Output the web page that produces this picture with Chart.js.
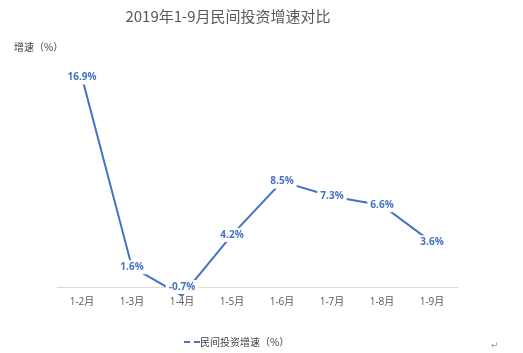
<!DOCTYPE html>
<html><head><meta charset="utf-8">
<script src="https://cdn.jsdelivr.net/npm/chart.js@4/dist/chart.umd.min.js"></script>
<style>html,body{margin:0;padding:0;background:#fff}#wrap{width:523px;height:353px;position:relative}</style>
</head><body><div id="wrap"><canvas id="c" width="523" height="353"></canvas></div>
<script>
const categories = ["1-2月","1-3月","1-4月","1-5月","1-6月","1-7月","1-8月","1-9月"];
const growth = [16.9, 1.6, -0.7, 4.2, 8.5, 7.3, 6.6, 3.6];
const seriesName = "民间投资增速（%）";
const titleText = "2019年1-9月民间投资增速对比";
const yTitle = "增速（%）";
const BLUE = "#4472C4";
const CJK = "'Noto Sans CJK SC', 'Noto Sans', sans-serif";

const decor = {
  id: 'decor',
  afterDatasetsDraw(chart) {
    const ctx = chart.ctx;
    const meta = chart.getDatasetMeta(0);
    ctx.save();
    ctx.font = "bold 10px 'Open Sans', 'Liberation Sans', sans-serif";
    ctx.textAlign = 'center';
    ctx.textBaseline = 'middle';
    meta.data.forEach((pt, i) => {
      const v = chart.data.datasets[0].data[i];
      const txt = v.toFixed(1) + '%';
      let y = pt.y;
      if (y > chart.chartArea.bottom) y = chart.chartArea.bottom;
      const w = ctx.measureText(txt).width;
      ctx.fillStyle = '#fff';
      ctx.fillRect(pt.x - w/2 - 3, y - 7, w + 6, 14);
      ctx.fillStyle = BLUE;
      ctx.fillText(txt, pt.x, y);
    });
    ctx.restore();
  },
  afterDraw(chart) {
    const ctx = chart.ctx;
    ctx.save();
    ctx.textBaseline = 'middle';
    ctx.fillStyle = '#595959';
    ctx.font = "15px " + CJK;
    ctx.textAlign = 'center';
    ctx.fillText(titleText, 228, 16);
    ctx.font = "10px " + CJK;
    ctx.textAlign = 'left';
    ctx.fillStyle = '#404040';
    ctx.fillText(yTitle, 14, 47);
    // legend
    ctx.strokeStyle = BLUE;
    ctx.lineWidth = 2;
    ctx.beginPath();
    ctx.moveTo(184, 342); ctx.lineTo(190, 342);
    ctx.moveTo(194, 342); ctx.lineTo(200, 342);
    ctx.stroke();
    ctx.fillStyle = '#404040';
    ctx.font = "10px " + CJK;
    ctx.fillText(seriesName, 200, 342);
    ctx.fillStyle = '#999';
    ctx.font = "9px 'DejaVu Sans', sans-serif";
    ctx.fillText("↵", 491, 346);
    ctx.restore();
  }
};

new Chart(document.getElementById('c'), {
  type: 'line',
  data: {
    labels: categories,
    datasets: [{
      label: seriesName,
      data: growth,
      borderColor: BLUE,
      borderWidth: 2,
      pointRadius: 0,
      tension: 0,
      clip: false,
      fill: false
    }]
  },
  options: {
    responsive: false,
    animation: false,
    devicePixelRatio: 1,
    layout: { padding: { left: 57, right: 66, top: 39, bottom: 36 } },
    plugins: { legend: { display: false }, title: { display: false }, tooltip: { enabled: false } },
    scales: {
      x: {
        offset: true,
        grid: { display: false, drawTicks: false },
        border: { display: true, color: '#d9d9d9', width: 1 },
        ticks: { color: '#595959', font: { size: 10, family: "'Open Sans', 'Noto Sans CJK SC', sans-serif" }, padding: 9, maxRotation: 0 }
      },
      y: {
        display: false,
        min: 0,
        max: 20
      }
    }
  },
  plugins: [decor]
});
</script>
</body></html>
